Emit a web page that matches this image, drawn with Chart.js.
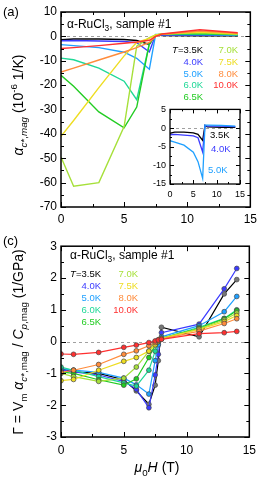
<!DOCTYPE html>
<html><head><meta charset="utf-8">
<script src="https://cdn.jsdelivr.net/npm/chart.js@4/dist/chart.umd.min.js"></script>
<style>
html,body{margin:0;padding:0;background:#fff;}
body{width:262px;height:480px;position:relative;overflow:hidden;font-family:"Liberation Sans",Arial,sans-serif;color:#000;}
canvas{position:absolute;}
.t{position:absolute;white-space:nowrap;line-height:1;}
.rot{position:absolute;white-space:nowrap;line-height:1;transform:translate(-50%,-50%) rotate(-90deg);font-size:14px;}
.lg{position:absolute;white-space:nowrap;font-size:9.5px;line-height:1;transform:translate(-100%,-50%);}
sub,sup{font-size:70%;line-height:0;}
</style></head><body>
<canvas id="ca" style="left:0;top:0" width="262" height="235"></canvas>
<canvas id="ci" style="left:146px;top:100px" width="104" height="100"></canvas>
<canvas id="cc" style="left:0;top:235px" width="262" height="245"></canvas>

<div class="t" style="left:3px;top:5px;font-size:13px">(a)</div>
<div class="t" style="left:3px;top:234px;font-size:13px">(c)</div>
<div class="t" style="left:67px;top:18px;font-size:12px">α-RuCl<sub>3</sub>, sample #1</div>
<div class="t" style="left:70px;top:249px;font-size:12px">α-RuCl<sub>3</sub>, sample #1</div>

<div class="rot" style="left:18px;top:105px"><i>α</i><sub><i>c</i>*,<i>mag</i></sub> (10<sup>-6</sup> 1/K)</div>
<div class="rot" style="left:18px;top:342px">Γ = V<sub>m</sub> <i>α</i><sub><i>c</i>*,mag</sub> / <i>C</i><sub><i>p</i>,mag</sub> (1/GPa)</div>
<div class="t" style="left:157px;top:467px;font-size:14px;transform:translate(-50%,-50%)"><i>μ</i><sub>0</sub><i>H</i> (T)</div>

<div id="legA"></div>
<div id="legC"></div>
<div id="legI"></div>

<script>
// ---------------- data ----------------
const temps = ['3.5K','4.0K','5.0K','6.0K','6.5K','7.0K','7.5K','8.0K','10.0K'];
const colors = ['#000000','#3b3bff','#1fa0ff','#1fd897','#22cc22','#a6e03a','#eedd22','#ff8c3c','#ff3030'];
const markerFill = ['#777777','#3b3bff','#1fa0ff','#1fd897','#22cc22','#a6e03a','#eedd22','#ff8c3c','#ff3030'];

// panel (a): field (T) and alpha_c*,mag (1e-6 1/K)
const fieldA = [0, 1, 3, 5, 6, 7, 7.5, 8, 11, 14];
const alpha35  = [-1.4, -1.1, -1.1, -1.3, -1.7, -3.3, 0.7, 0.3, 0.2, 0.2];
const alpha40  = [-1.8, -1.7, -1.9, -2.1, -2.6, -6.4, 0.7, 0.5, 0.5, 0.4];
const alpha50  = [-3.4, -3.8, -4.6, -6.5, -9.0, -13.5, 0.8, 0.8, 0.7, 0.5];
const alpha60  = [-8.9, -9.6, -13.0, -18.4, -26.0, -3.0, 0.3, 1.0, 1.0, 0.6];
const alpha65  = [-16.0, -20.5, -31.0, -37.5, -29.0, -3.0, 0.5, 1.0, 1.2, 0.7];
const alpha70  = [-49.5, -61.5, -60.0, -37.0, -4.0, -0.5, 0.6, 1.0, 1.5, 0.9];
const alpha75  = [-41.0, -34.5, -21.0, -8.0, -2.5, -0.8, 0.6, 1.0, 1.8, 1.1];
const alpha80  = [-14.6, -13.0, -9.7, -6.4, -4.6, -2.5, 0.0, 0.8, 2.2, 1.3];
const alpha100 = [-5.0, -4.6, -3.8, -2.8, -2.3, -1.6, 0.0, 1.0, 2.7, 1.5];
const alphaSeries = [alpha35, alpha40, alpha50, alpha60, alpha65, alpha70, alpha75, alpha80, alpha100];
const insetIdx = [0, 1, 2]; // 3.5K, 4.0K, 5.0K shown in the inset

// panel (c): field (T) and Gruneisen parameter (1/GPa)
const fieldC = [0, 1, 3, 5, 6, 7, 7.5, 7.75, 8, 11, 13, 14];
const gamma35  = [-0.85, -0.95, -1.0, -1.2, -1.55, -1.97, -1.37, -0.6, 0.45, 0.15, 1.5, 1.95];
const gamma40  = [-0.9, -0.95, -1.05, -1.25, -1.5, -2.08, -1.05, -0.4, 0.28, 0.55, 1.66, 2.3];
const gamma50  = [-0.85, -0.9, -0.97, -1.15, -1.36, -1.65, -0.6, -0.1, 0.15, 0.5, 0.94, 1.42];
const gamma60  = [-0.8, -0.9, -1.1, -1.3, -1.4, -0.9, -0.3, 0.0, 0.1, 0.45, 0.73, 1.0];
const gamma65  = [-0.95, -1.0, -1.2, -1.37, -1.17, -0.5, -0.1, 0.05, 0.1, 0.42, 0.72, 0.97];
const gamma70  = [-1.0, -1.1, -1.25, -1.15, -0.8, -0.3, 0.0, 0.05, 0.1, 0.4, 0.68, 0.9];
const gamma75  = [-1.23, -1.19, -0.9, -0.62, -0.5, -0.3, -0.1, 0.0, 0.1, 0.38, 0.63, 0.82];
const gamma80  = [-0.97, -0.9, -0.72, -0.4, -0.29, -0.13, -0.03, 0.03, 0.08, 0.33, 0.57, 0.72];
const gamma100 = [-0.39, -0.4, -0.34, -0.18, -0.11, -0.03, 0.02, 0.05, 0.07, 0.25, 0.28, 0.32];
const gammaSeries = [gamma35, gamma40, gamma50, gamma60, gamma65, gamma70, gamma75, gamma80, gamma100];

// ---------------- helpers ----------------
const FONT = '"Liberation Sans", Arial, sans-serif';
const pts = (xs, ys) => xs.map((x, i) => ({x: x, y: ys[i]}));

const framePlugin = {
  id: 'frame',
  beforeDraw(chart, args, o) {
    if (o.white) {
      const a = chart.chartArea, c = chart.ctx;
      c.save(); c.fillStyle = '#fff';
      c.fillRect(a.left, a.top, a.right - a.left, a.bottom - a.top);
      c.restore();
    }
  },
  beforeDatasetsDraw(chart, args, o) {
    const a = chart.chartArea, c = chart.ctx, y0 = chart.scales.y.getPixelForValue(0);
    c.save();
    c.strokeStyle = '#a0a0a0'; c.lineWidth = 1; c.setLineDash([3, 3]);
    c.beginPath(); c.moveTo(a.left, Math.round(y0) + 0.5); c.lineTo(a.right, Math.round(y0) + 0.5); c.stroke();
    c.restore();
  },
  afterDraw(chart, args, o) {
    const a = chart.chartArea, c = chart.ctx, xs = chart.scales.x, ys = chart.scales.y;
    c.save();
    c.strokeStyle = '#000'; c.lineWidth = 1;
    const isMaj = (v, m) => Math.abs(v / m - Math.round(v / m)) < 1e-6;
    c.beginPath();
    for (let v = xs.min; v <= xs.max + 1e-9; v += o.xMinor) {
      const p = Math.round(xs.getPixelForValue(v)) + 0.5;
      const L = isMaj(v, o.xMajor) ? o.maj : o.min;
      c.moveTo(p, a.bottom); c.lineTo(p, a.bottom - L);
      c.moveTo(p, a.top); c.lineTo(p, a.top + L);
    }
    for (let v = ys.min; v <= ys.max + 1e-9; v += o.yMinor) {
      const p = Math.round(ys.getPixelForValue(v)) + 0.5;
      const L = isMaj(v, o.yMajor) ? o.maj : o.min;
      c.moveTo(a.left, p); c.lineTo(a.left + L, p);
      c.moveTo(a.right, p); c.lineTo(a.right - L, p);
    }
    c.stroke();
    c.lineWidth = o.lw;
    c.strokeRect(a.left, a.top, a.right - a.left, a.bottom - a.top);
    c.restore();
  }
};

function axes(o) {
  return {
    x: {
      type: 'linear', min: o.xmin, max: o.xmax,
      ticks: {stepSize: o.xstep, font: {family: FONT, size: o.fs}, color: '#000', padding: o.xpad, maxRotation: 0, autoSkip: false},
      grid: {display: false, drawTicks: false}, border: {display: false},
      afterFit(s) { s.height = o.xh; }
    },
    y: {
      type: 'linear', min: o.ymin, max: o.ymax,
      ticks: {stepSize: o.ystep, font: {family: FONT, size: o.fs}, color: '#000', padding: o.ypad, autoSkip: false},
      grid: {display: false, drawTicks: false}, border: {display: false},
      afterFit(s) { s.width = o.yw; }
    }
  };
}

function base(datasets, scales, pad, frame) {
  return {
    type: 'line',
    data: {datasets: datasets},
    options: {
      responsive: false, animation: false, devicePixelRatio: 1,
      layout: {padding: pad},
      scales: scales,
      plugins: {legend: {display: false}, tooltip: {enabled: false}, frame: frame},
      elements: {line: {tension: 0}}
    },
    plugins: [framePlugin]
  };
}

// ---------------- panel (a) ----------------
const dsA = alphaSeries.map((s, i) => ({
  data: pts(fieldA, s), borderColor: colors[i], borderWidth: 1.4, pointRadius: 0, fill: false
})).reverse();
new Chart(document.getElementById('ca'), base(dsA,
  axes({xmin: 0, xmax: 15, xstep: 5, ymin: -70, ymax: 10, ystep: 10, fs: 12, xpad: 5, ypad: 4, xh: 28, yw: 61}),
  {left: 0, top: 12, right: 8, bottom: 0},
  {xMajor: 5, xMinor: 2.5, yMajor: 10, yMinor: 5, maj: 5, min: 3, lw: 1.5}));

// ---------------- inset ----------------
const dsI = insetIdx.map(i => ({
  data: pts(fieldA, alphaSeries[i]), borderColor: colors[i], borderWidth: 1.3, pointRadius: 0, fill: false
})).reverse();
new Chart(document.getElementById('ci'), base(dsI,
  axes({xmin: 0, xmax: 15, xstep: 5, ymin: -15, ymax: 5, ystep: 5, fs: 9, xpad: 5, ypad: 4, xh: 16, yw: 24}),
  {left: 0, top: 8, right: 7, bottom: 0},
  {xMajor: 5, xMinor: 2.5, yMajor: 5, yMinor: 2.5, maj: 4, min: 2, lw: 1.3, white: true}));

// ---------------- panel (c) ----------------
const dsC = gammaSeries.map((s, i) => ({
  data: pts(fieldC, s), borderColor: colors[i], borderWidth: 1.2,
  pointRadius: 2.4, pointBackgroundColor: markerFill[i], pointBorderColor: '#444', pointBorderWidth: 0.7, fill: false
})).reverse();
new Chart(document.getElementById('cc'), base(dsC,
  axes({xmin: 0, xmax: 15, xstep: 5, ymin: -3, ymax: 3, ystep: 1, fs: 12, xpad: 6, ypad: 4, xh: 43, yw: 61}),
  {left: 0, top: 7, right: 8, bottom: 0},
  {xMajor: 5, xMinor: 2.5, yMajor: 1, yMinor: 0.5, maj: 5, min: 3, lw: 1.5}));

// ---------------- legends (text) ----------------
function legend(el, items) {
  const host = document.getElementById(el);
  items.forEach(it => {
    const d = document.createElement('div');
    d.className = 'lg';
    d.style.left = it.x + 'px'; d.style.top = it.y + 'px'; d.style.color = it.c;
    d.innerHTML = it.t;
    host.appendChild(d);
  });
}
function legendItems(xl, xr, y0, dy) {
  const out = [];
  temps.forEach((t, i) => {
    const col = i < 5 ? 0 : 1, row = i < 5 ? i : i - 5;
    out.push({x: col ? xr : xl, y: y0 + row * dy, c: colors[i], t: i === 0 ? '<i>T</i>=' + t : t});
  });
  return out;
}
legend('legA', legendItems(203, 238, 50, 11.8));
legend('legC', legendItems(101, 138, 274, 12.1));
document.getElementById('legI').innerHTML =
  '<div class="t" style="left:210px;top:130px;font-size:9.5px;color:' + colors[0] + '">' + temps[0] + '</div>' +
  '<div class="t" style="left:211px;top:144px;font-size:9.5px;color:' + colors[1] + '">' + temps[1] + '</div>' +
  '<div class="t" style="left:208px;top:165px;font-size:9.5px;color:' + colors[2] + '">' + temps[2] + '</div>';
</script>
</body></html>
